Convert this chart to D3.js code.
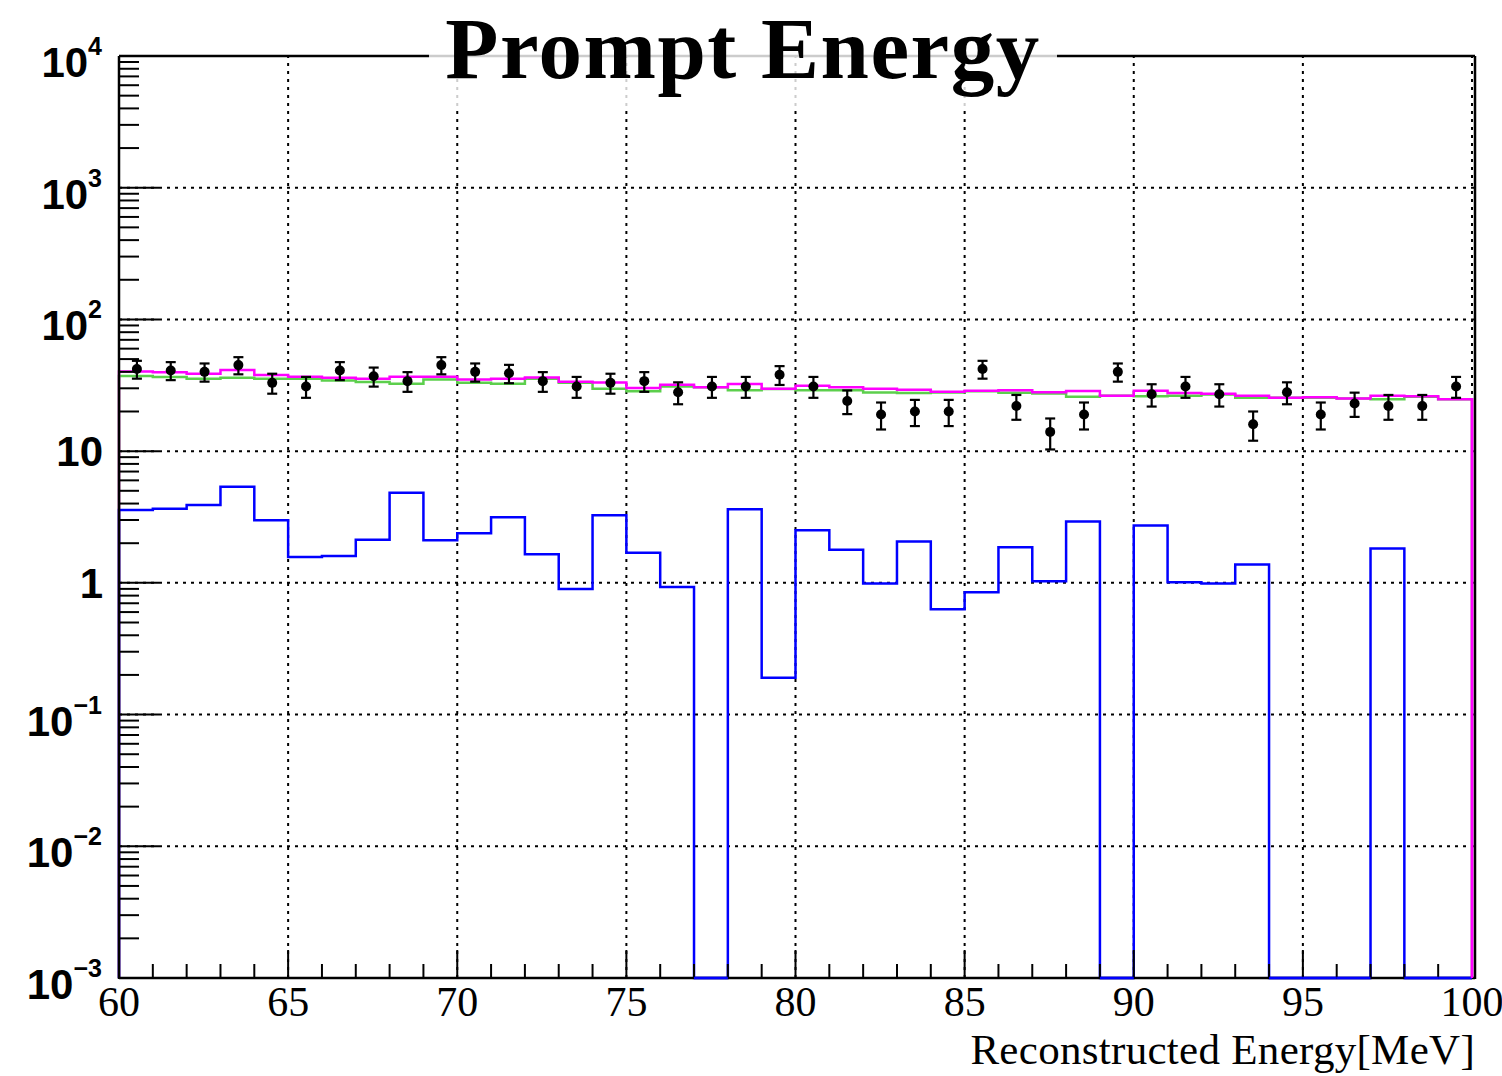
<!DOCTYPE html>
<html>
<head>
<meta charset="utf-8">
<script src="https://cdn.jsdelivr.net/npm/d3@7"></script>
<style>
  html, body { margin: 0; padding: 0; background: #fff; }
  svg { display: block; }
</style>
</head>
<body>
<svg id="chart" width="1502" height="1076"></svg>
<script>
// ---------- data ----------
const binEdgesStart = 60;   // first bin low edge (MeV)
const binWidth = 1;         // MeV
const nBins = 40;

// observed data (counts) and their errors
const dataCounts = [42, 41, 40, 45, 33, 31, 41, 37, 34, 45,
                    40, 39, 34, 31, 33, 34, 28, 31, 31, 38,
                    31, 24, 19, 20, 20, 42, 22, 14, 19, 40,
                    27, 31, 27, 16, 28, 19, 23, 22, 22, 31];
const dataErrors = [6.5, 6.4, 6.3, 6.7, 5.7, 5.6, 6.4, 6.1, 5.8, 6.7,
                    6.3, 6.2, 5.8, 5.6, 5.7, 5.8, 5.3, 5.6, 5.6, 6.2,
                    5.6, 4.9, 4.4, 4.5, 4.5, 6.5, 4.7, 3.7, 4.4, 6.3,
                    5.2, 5.6, 5.2, 4.0, 5.3, 4.4, 4.8, 4.7, 4.7, 5.6];

// total expectation (magenta)
const totalMC = [40.2, 39.7, 38.7, 41.4, 37.8, 36.7, 36.0, 35.4, 36.7, 36.7,
                 35.0, 35.4, 36.3, 33.7, 33.2, 30.1, 31.9, 30.5, 32.3, 29.8,
                 31.3, 30.6, 29.8, 29.2, 28.2, 28.8, 29.0, 28.0, 28.6, 26.3,
                 28.8, 27.6, 27.3, 26.3, 25.4, 25.6, 25.1, 26.3, 26.1, 24.8];
// background component (green)
const greenMC = [37.2, 36.6, 35.4, 36.0, 35.4, 35.4, 34.4, 33.5, 32.5, 35.0,
                 33.0, 32.5, 35.4, 33.0, 29.8, 28.5, 30.9, 30.5, 29.0, 29.6,
                 29.0, 29.0, 27.9, 27.6, 27.9, 28.5, 27.8, 27.4, 25.9, 26.3,
                 26.1, 26.3, 26.9, 25.4, 25.4, 25.4, 25.1, 24.8, 25.9, 24.8];
// signal-like component (blue)
const blueMC = [3.58, 3.66, 3.90, 5.37, 2.99, 1.57, 1.60, 2.12, 4.84, 2.11,
                2.38, 3.15, 1.65, 0.90, 3.26, 1.69, 0.93, 0, 3.62, 0.19,
                2.51, 1.78, 0.99, 2.06, 0.63, 0.85, 1.86, 1.03, 2.92, 0,
                2.72, 1.01, 0.99, 1.38, 0, 0, 0, 1.82, 0, 0];

const xMajorTicks = [60, 65, 70, 75, 80, 85, 90, 95, 100];
const xTickLabels = ["60", "65", "70", "75", "80", "85", "90", "95", "100"];
const yMajorTicks = [1e-3, 1e-2, 1e-1, 1, 10, 1e2, 1e3, 1e4];
const yTickBase = ["10", "10", "10", "1", "10", "10", "10", "10"];
const yTickExp  = ["\u22123", "\u22122", "\u22121", "", "", "2", "3", "4"];

const titleText = "Prompt Energy";
const xTitleText = "Reconstructed Energy[MeV]";

// ---------- layout ----------
const L = 119, R = 1472, T = 56, B = 978;
const svg = d3.select("#chart");
const x = d3.scaleLinear().domain([60, 100]).range([L, R]);
const y = d3.scaleLog().domain([1e-3, 1e4]).range([B, T]).clamp(true);
const yv = v => v > 0 ? y(v) : B;

const serif = "'Liberation Serif','Times New Roman',Times,serif";
const sans = "'Liberation Sans',Arial,Helvetica,sans-serif";

// ---------- grid ----------
const grid = svg.append("g").attr("stroke", "#000").attr("stroke-width", 2)
  .attr("stroke-dasharray", "3,5").attr("fill", "none");
xMajorTicks.slice(1).forEach(v => {
  grid.append("line").attr("x1", x(v)).attr("x2", x(v)).attr("y1", B).attr("y2", T);
});
yMajorTicks.slice(1, -1).forEach(v => {
  grid.append("line").attr("x1", L).attr("x2", R + 2).attr("y1", y(v)).attr("y2", y(v));
});

// ---------- histograms ----------
function stepPath(vals) {
  let p = `M${x(binEdgesStart)},${B}`;
  vals.forEach((v, i) => {
    const x0 = x(binEdgesStart + i * binWidth), x1 = x(binEdgesStart + (i + 1) * binWidth);
    p += `L${x0},${yv(v)}L${x1},${yv(v)}`;
  });
  p += `L${x(binEdgesStart + vals.length * binWidth)},${B}`;
  return p;
}
svg.append("path").attr("d", stepPath(greenMC)).attr("fill", "none")
  .attr("stroke", "#5ccf4c").attr("stroke-width", 2.5);
svg.append("path").attr("d", stepPath(totalMC)).attr("fill", "none")
  .attr("stroke", "#ff00ff").attr("stroke-width", 2.5);

// ---------- data points ----------
const pts = svg.append("g");
dataCounts.forEach((v, i) => {
  const cx = x(binEdgesStart + (i + 0.5) * binWidth) + 1;
  const yt = y(v + dataErrors[i]), yb = y(v - dataErrors[i]);
  pts.append("line").attr("x1", cx).attr("x2", cx).attr("y1", yt).attr("y2", yb)
    .attr("stroke", "#000").attr("stroke-width", 2.2);
  [yt, yb].forEach(yy => pts.append("line").attr("x1", cx - 5).attr("x2", cx + 5)
    .attr("y1", yy).attr("y2", yy).attr("stroke", "#000").attr("stroke-width", 2.2));
  pts.append("circle").attr("cx", cx).attr("cy", y(v)).attr("r", 5).attr("fill", "#000");
});

// blue histogram
svg.append("path").attr("d", stepPath(blueMC)).attr("fill", "none")
  .attr("stroke", "#0000ff").attr("stroke-width", 2.5);

// ---------- frame & axes ----------
const fr = svg.append("g").attr("stroke", "#000").attr("stroke-width", 2.5).attr("fill", "none");
fr.append("line").attr("x1", L).attr("x2", L).attr("y1", T).attr("y2", B + 1);
fr.append("line").attr("x1", R + 3).attr("x2", R + 3).attr("y1", T).attr("y2", B + 1);
fr.append("line").attr("x1", L).attr("x2", R + 3).attr("y1", T).attr("y2", T);
fr.append("line").attr("x1", L).attr("x2", R + 3).attr("y1", B).attr("y2", B);

// x ticks
const tk = svg.append("g").attr("stroke", "#000").attr("stroke-width", 2);
d3.range(60, 101, 1).forEach(v => {
  const major = xMajorTicks.includes(v);
  tk.append("line").attr("x1", x(v)).attr("x2", x(v)).attr("y1", B).attr("y2", B - (major ? 28 : 14));
});
// y ticks (log)
yMajorTicks.forEach((v, k) => {
  tk.append("line").attr("x1", L).attr("x2", L + 40).attr("y1", y(v)).attr("y2", y(v));
  if (k < yMajorTicks.length - 1) {
    d3.range(2, 10).forEach(m => {
      const yy = y(v * m);
      tk.append("line").attr("x1", L).attr("x2", L + 20).attr("y1", yy).attr("y2", yy);
    });
  }
});

// blue zero-bins lie on the bottom axis (drawn over it, as in the original)
const blueBottom = svg.append("g").attr("stroke", "#0000ff").attr("stroke-width", 2.5);
blueMC.forEach((v, i) => {
  if (v <= 0) {
    blueBottom.append("line").attr("x1", x(binEdgesStart + i * binWidth))
      .attr("x2", x(binEdgesStart + (i + 1) * binWidth)).attr("y1", B).attr("y2", B);
  }
});
// magenta right edge on top of frame
svg.append("line").attr("x1", x(100)).attr("x2", x(100)).attr("y1", yv(totalMC[nBins - 1])).attr("y2", B)
  .attr("stroke", "#ff00ff").attr("stroke-width", 2.5);

// x tick labels
xMajorTicks.forEach((v, i) => {
  svg.append("text").attr("x", x(v)).attr("y", 1016).attr("text-anchor", "middle")
    .attr("font-family", serif).attr("font-size", 42).text(xTickLabels[i]);
});
// y tick labels
yMajorTicks.forEach((v, i) => {
  const t = svg.append("text").attr("text-anchor", "end").attr("font-family", sans)
    .attr("font-weight", "bold").attr("fill", "#000");
  if (yTickExp[i]) {
    t.attr("x", 102).attr("y", y(v) + 21);
    t.append("tspan").attr("font-size", 42).text(yTickBase[i]);
    t.append("tspan").attr("font-size", 25).attr("dy", -22).text(yTickExp[i]);
  } else {
    t.attr("x", 103).attr("y", y(v) + 15).attr("font-size", 42).text(yTickBase[i]);
  }
});

// x axis title
svg.append("text").attr("x", 1475).attr("y", 1064).attr("text-anchor", "end")
  .attr("font-family", serif).attr("font-size", 43).attr("letter-spacing", 0.3).text(xTitleText);

// title box (semi-transparent white) and title
svg.append("rect").attr("x", 429).attr("y", 0).attr("width", 628).attr("height", 106)
  .attr("fill", "#fff").attr("fill-opacity", 0.8);
svg.append("text").attr("x", 743).attr("y", 78).attr("text-anchor", "middle")
  .attr("font-family", serif).attr("font-weight", "bold").attr("font-size", 87)
  .attr("letter-spacing", 1.5)
  .text(titleText);
</script>
</body>
</html>
